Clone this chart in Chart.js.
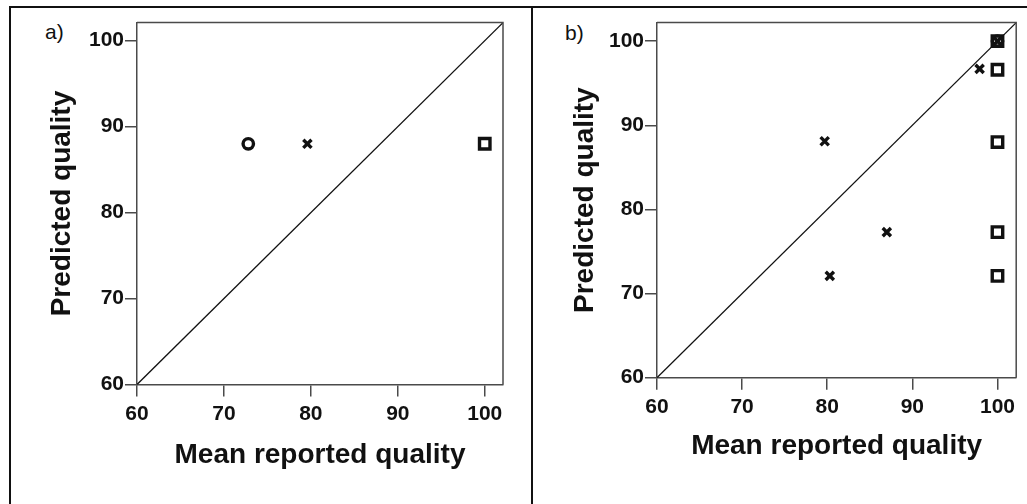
<!DOCTYPE html>
<html>
<head>
<meta charset="utf-8">
<script src="https://cdn.jsdelivr.net/npm/chart.js@4"></script>
<style>
  body { margin: 0; background: #fff; width: 1027px; height: 504px; overflow: hidden; position: relative; }
  canvas { position: absolute; }
  .frame { position: absolute; background: #111; }
  .tag { position: absolute; font: 21px "Liberation Sans", Arial, sans-serif; line-height: 21px; color: #111; }
</style>
</head>
<body>
<div class="frame" style="left:9px; top:6px; width:1018px; height:2px"></div>
<div class="frame" style="left:9px; top:6px; width:2px; height:498px"></div>
<div class="frame" style="left:531px; top:6px; width:2px; height:498px"></div>
<div class="tag" style="left:45px; top:21px">a)</div>
<div class="tag" style="left:565px; top:22px">b)</div>
<canvas id="chartA" width="518" height="495" style="left:12px; top:9px"></canvas>
<canvas id="chartB" width="493" height="495" style="left:534px; top:9px"></canvas>
<script>
// axis ticks shared by both panels
const tickValues = [60, 70, 80, 90, 100];
const axisMinA = 60, axisMaxA = 102.1;
const axisMinB = 60, axisMaxB = 102.2;

// panel a
const aSquareX = [100];
const aSquareY = [88];
const aCrossX = [79.6];
const aCrossY = [88];
const aCircleX = [72.8];
const aCircleY = [88];

// panel b
const bSquareX = [100, 100, 100, 100, 100];
const bSquareY = [100, 96.6, 88.0, 77.3, 72.1];
const bCrossX = [100, 97.9, 79.7, 87.0, 80.3];
const bCrossY = [100, 96.7, 88.1, 77.3, 72.1];
const bCircleX = [100];
const bCircleY = [100];

const ink = '#111';
const axisGrey = '#4a4a4a';
const font = '"Liberation Sans", Arial, sans-serif';

const toPoints = (xs, ys) => xs.map((x, i) => ({ x, y: ys[i] }));

// top + right edges of the plot box
const boxPlugin = {
    id: 'box',
    afterDraw(chart) {
        const { ctx, chartArea: a } = chart;
        ctx.save();
        ctx.strokeStyle = axisGrey;
        ctx.lineWidth = 1.5;
        ctx.beginPath();
        ctx.moveTo(a.left, a.top);
        ctx.lineTo(a.right, a.top);
        ctx.lineTo(a.right, a.bottom);
        ctx.stroke();
        ctx.restore();
    }
};

function makePanel(id, cfg) {
    const axis = (min, max, fitSize, horizontal, title, titlePad) => ({
        type: 'linear',
        min, max,
        afterBuildTicks: s => { s.ticks = tickValues.map(v => ({ value: v })); },
        afterFit: s => { if (horizontal) s.height = fitSize; else s.width = fitSize; },
        grid: { drawOnChartArea: false, color: axisGrey, lineWidth: 1.5, tickLength: 12 },
        border: { display: true, color: axisGrey, width: 1.5 },
        ticks: { color: ink, padding: horizontal ? 5 : 1, font: { family: font, size: 21, weight: 'bold' } },
        title: {
            display: true, text: title, color: ink,
            font: { family: font, size: 28, weight: 'bold' },
            padding: titlePad
        }
    });

    new Chart(document.getElementById(id), {
        type: 'scatter',
        data: {
            datasets: [
                {
                    type: 'line',
                    data: [{ x: cfg.min, y: cfg.min }, { x: cfg.max, y: cfg.max }],
                    borderColor: ink, borderWidth: 1.3, pointRadius: 0, fill: false
                },
                {
                    data: toPoints(cfg.squareX, cfg.squareY),
                    pointStyle: 'rect', pointRadius: 7.4, borderWidth: 3.4,
                    borderColor: ink, backgroundColor: 'rgba(0,0,0,0)'
                },
                {
                    data: toPoints(cfg.crossX, cfg.crossY),
                    pointStyle: 'crossRot', pointRadius: 5.8, borderWidth: 3.4,
                    borderColor: ink, backgroundColor: ink
                },
                {
                    data: toPoints(cfg.circleX, cfg.circleY),
                    pointStyle: 'circle', pointRadius: 5.2, borderWidth: 3.4,
                    borderColor: ink, backgroundColor: 'rgba(0,0,0,0)'
                }
            ]
        },
        options: {
            responsive: false,
            animation: false,
            events: [],
            layout: { padding: { left: 0, top: cfg.padTop, right: cfg.padRight, bottom: 0 } },
            plugins: { legend: { display: false }, tooltip: { enabled: false } },
            scales: {
                x: axis(cfg.min, cfg.max, cfg.xAxisH, true, 'Mean reported quality', { top: 0, bottom: cfg.xTitlePad }),
                y: axis(cfg.min, cfg.max, cfg.yAxisW, false, 'Predicted quality', { top: cfg.yTitlePad, bottom: 0 })
            }
        },
        plugins: [boxPlugin]
    });
}

makePanel('chartA', {
    min: axisMinA, max: axisMaxA,
    squareX: aSquareX, squareY: aSquareY,
    crossX: aCrossX, crossY: aCrossY,
    circleX: aCircleX, circleY: aCircleY,
    padTop: 12, padRight: 27, yAxisW: 125, xAxisH: 119.5,
    xTitlePad: 32, yTitlePad: 33
});

makePanel('chartB', {
    min: axisMinB, max: axisMaxB,
    squareX: bSquareX, squareY: bSquareY,
    crossX: bCrossX, crossY: bCrossY,
    circleX: bCircleX, circleY: bCircleY,
    padTop: 8.3, padRight: 8, yAxisW: 123, xAxisH: 126.3,
    xTitlePad: 41, yTitlePad: 34
});
</script>
</body>
</html>
